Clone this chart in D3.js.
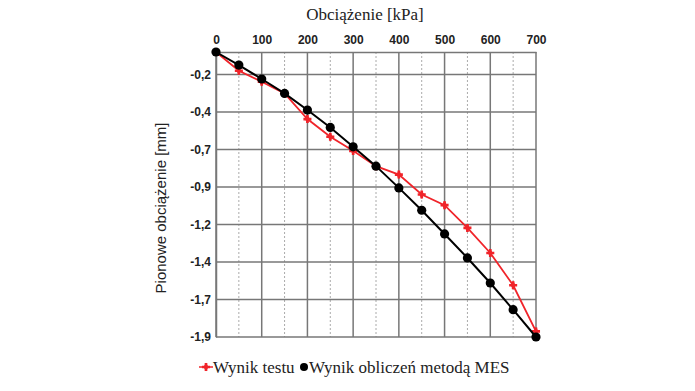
<!DOCTYPE html>
<html><head><meta charset="utf-8">
<script src="https://cdn.jsdelivr.net/npm/d3@7"></script>
<style>body{margin:0;background:#fff}</style>
</head><body><svg id="c" width="695" height="391"></svg>
<script>
const loads = [0,50,100,150,200,250,300,350,400,450,500,550,600,650,700];
const testValues = [0,-0.125,-0.198,-0.276,-0.447,-0.565,-0.659,-0.761,-0.817,-0.95,-1.021,-1.173,-1.34,-1.555,-1.863];
const femValues = [0,-0.087,-0.18,-0.276,-0.387,-0.503,-0.632,-0.761,-0.906,-1.055,-1.213,-1.373,-1.54,-1.718,-1.9];
const xMajorTicks = [0,100,200,300,400,500,600,700];
const xMinorTicks = [50,150,250,350,450,550,650];
const yTicks = [-0.15,-0.4,-0.65,-0.9,-1.15,-1.4,-1.65,-1.9];
const yTickLabels = ["-0,2","-0,4","-0,7","-0,9","-1,2","-1,4","-1,7","-1,9"];
const seriesNames = ["Wynik testu","Wynik obliczeń metodą MES"];

const SERIF = "'Liberation Serif', 'Times New Roman', serif";
const SANS = "'Liberation Sans', Arial, sans-serif";
const svg = d3.select("#c");
const L=216, R=536, T=52, B=337;
const x = d3.scaleLinear().domain([0,700]).range([L,R]);
const y = d3.scaleLinear().domain([-1.9,0]).range([B,T]);

svg.append("g").selectAll("line").data(xMinorTicks).join("line")
  .attr("x1",d=>x(d)).attr("x2",d=>x(d)).attr("y1",T).attr("y2",B)
  .attr("stroke","#aaa").attr("stroke-width",1).attr("stroke-dasharray","2,2");
svg.append("g").selectAll("line").data(xMajorTicks).join("line")
  .attr("x1",d=>x(d)).attr("x2",d=>x(d)).attr("y1",T).attr("y2",B)
  .attr("stroke","#777").attr("stroke-width",1.5);
svg.append("g").selectAll("line").data(yTicks).join("line")
  .attr("x1",L).attr("x2",R).attr("y1",d=>y(d)).attr("y2",d=>y(d))
  .attr("stroke","#777").attr("stroke-width",1.5);
const xAxis = d3.axisTop(x).tickValues(xMajorTicks).tickSize(0).tickPadding(8).tickFormat(d3.format("d"));
const gx = svg.append("g").attr("transform",`translate(0,${T})`).call(xAxis);
gx.select(".domain").attr("stroke","#777").attr("stroke-width",1.5);
gx.selectAll("text").style("font-family",SANS).attr("font-weight","bold").attr("font-size",12).attr("fill","#222");
const yAxis = d3.axisLeft(y).tickValues(yTicks).tickSize(0).tickPadding(5).tickFormat((d,i)=>yTickLabels[i]);
const gy = svg.append("g").attr("transform",`translate(${L},0)`).call(yAxis);
gy.select(".domain").attr("stroke","#777").attr("stroke-width",1.5);
gy.selectAll("text").style("font-family",SANS).attr("font-weight","bold").attr("font-size",12).attr("fill","#222");

const line = d3.line().x((d,i)=>x(loads[i])).y(d=>y(d));
const RED = "#f0242a";
const redMarker = (g) => {
  g.append("path").attr("d",d3.symbol().type(d3.symbolCross).size(36)).attr("fill",RED);
  g.append("path").attr("d",d3.symbol().type(d3.symbolDiamond).size(22)).attr("fill",RED);
};
svg.append("path").datum(testValues).attr("d",line).attr("fill","none").attr("stroke",RED).attr("stroke-width",1.8);
svg.append("g").selectAll("g").data(testValues).join("g")
  .attr("transform",(d,i)=>`translate(${x(loads[i])},${y(d)})`).call(redMarker);
svg.append("path").datum(femValues).attr("d",line).attr("fill","none").attr("stroke","#000").attr("stroke-width",2);
svg.append("g").selectAll("circle").data(femValues).join("circle")
  .attr("cx",(d,i)=>x(loads[i])).attr("cy",d=>y(d)).attr("r",4.6).attr("fill","#000");

svg.append("text").attr("x",365).attr("y",20).attr("text-anchor","middle")
  .style("font-family",SERIF).attr("font-size",17).attr("fill","#222").text("Obciążenie  [kPa]");
svg.append("text").attr("transform","translate(166,208) rotate(-90)").attr("text-anchor","middle")
  .style("font-family",SANS).attr("font-size",15).attr("fill","#222").text("Pionowe obciążenie [mm]");

const lg = svg.append("g").style("font-family",SERIF).attr("font-size",17).attr("fill","#222");
lg.append("line").attr("x1",199).attr("x2",213).attr("y1",367).attr("y2",367).attr("stroke",RED).attr("stroke-width",1.5);
lg.append("g").attr("transform","translate(206,367)").call(redMarker);
lg.append("text").attr("x",213).attr("y",373).text(seriesNames[0]);
lg.append("circle").attr("cx",304).attr("cy",367).attr("r",4).attr("fill","#000");
lg.append("text").attr("x",309).attr("y",373).text(seriesNames[1]);
</script></body></html>
